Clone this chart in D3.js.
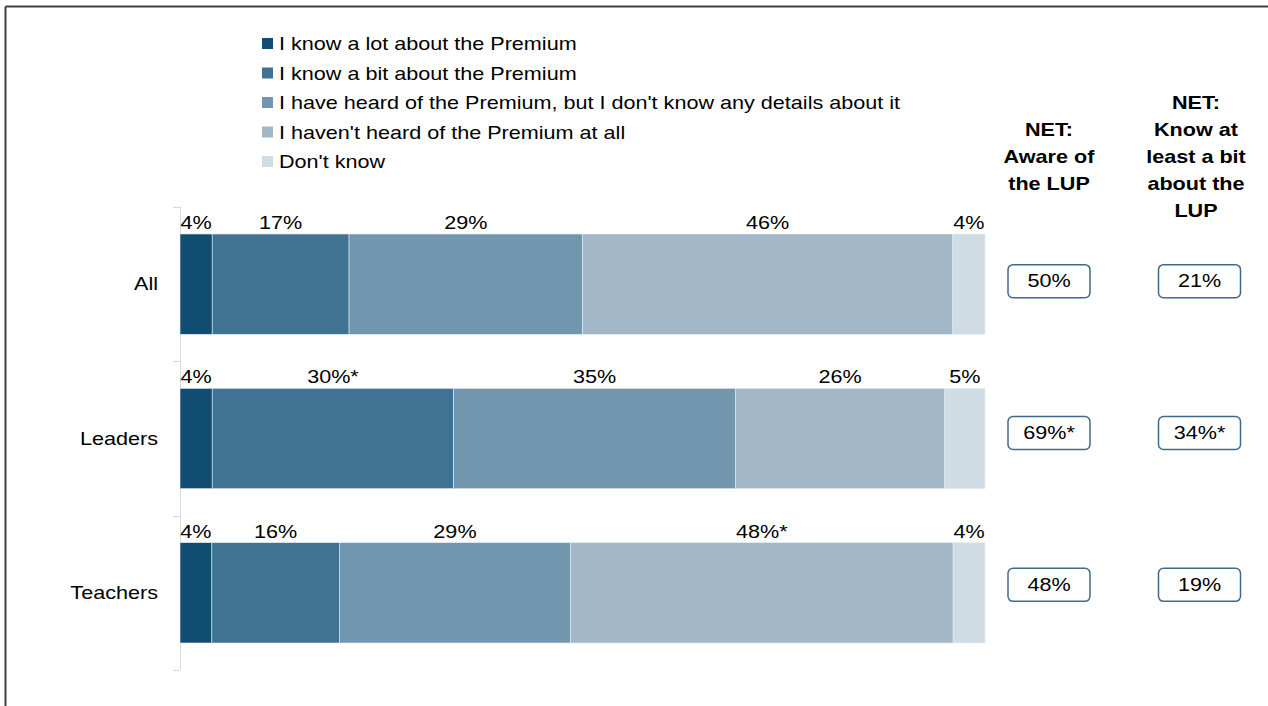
<!DOCTYPE html>
<html>
<head>
<meta charset="utf-8">
<script src="https://cdn.jsdelivr.net/npm/d3@7"></script>
<style>
  html, body { margin: 0; padding: 0; background: #fff; }
  svg { display: block; font-family: "Liberation Sans", Arial, sans-serif; }
</style>
</head>
<body>
<svg id="chart" width="1268" height="706"></svg>
<script>
// Survey groups
const categories = ["All", "Leaders", "Teachers"];

// Response options, in stacking order
const seriesNames = [
  "I know a lot about the Premium",
  "I know a bit about the Premium",
  "I have heard of the Premium, but I don't know any details about it",
  "I haven't heard of the Premium at all",
  "Don't know"
];
const seriesColors = ["#114d72", "#407291", "#7196ae", "#a2b8c8", "#cfdce4"];

// Percentages per group (All, Leaders, Teachers)
const knowLot   = [4, 4, 4];
const knowBit   = [17, 30, 16];
const heardOnly = [29, 35, 29];
const notHeard  = [46, 26, 48];
const dontKnow  = [4, 5, 4];

// Significance markers (*) per series and group
const knowLotSig   = [false, false, false];
const knowBitSig   = [false, true, false];
const heardOnlySig = [false, false, false];
const notHeardSig  = [false, false, true];
const dontKnowSig  = [false, false, false];

// NET summary columns
const netHeaders = [["NET:", "Aware of", "the LUP"], ["NET:", "Know at", "least a bit", "about the", "LUP"]];
const netAware    = [50, 69, 48];
const netAwareSig = [false, true, false];
const netKnow     = [21, 34, 19];
const netKnowSig  = [false, true, false];

const seriesValues = [knowLot, knowBit, heardOnly, notHeard, dontKnow];
const seriesSig = [knowLotSig, knowBitSig, heardOnlySig, notHeardSig, dontKnowSig];

const rows = categories.map((c, i) => {
  const r = { category: c };
  seriesNames.forEach((s, j) => { r[s] = seriesValues[j][i]; });
  return r;
});

// Text in this chart uses a slightly widened face
const STRETCH = 1.2;
function placeText(sel, fx, fy) {
  return sel.attr("transform", (d, i) => `translate(${fx(d, i)},${fy(d, i)}) scale(${STRETCH},1)`);
}

const svg = d3.select("#chart");

// Frame lines (top and left)
svg.append("line").attr("x1", 5.5).attr("x2", 1268).attr("y1", 6.5).attr("y2", 6.5)
  .attr("stroke", "#404040").attr("stroke-width", 2);
svg.append("line").attr("x1", 5.5).attr("x2", 5.5).attr("y1", 6.5).attr("y2", 706)
  .attr("stroke", "#404040").attr("stroke-width", 2);

const x = d3.scaleLinear().domain([0, 1]).range([180, 985]);
const y = d3.scaleBand().domain(categories).range([207, 670])
  .paddingInner(0.35).paddingOuter(0.175);

const stack = d3.stack().keys(seriesNames).offset(d3.stackOffsetExpand);
const layers = stack(rows);

// Category axis
const axisG = svg.append("g");
axisG.append("line").attr("x1", 180.5).attr("x2", 180.5).attr("y1", 207).attr("y2", 670)
  .attr("stroke", "#d9d9d9");
const step = y.step();
const boundaries = categories.map(c => y(c) - y.paddingInner() * step / 2);
boundaries[0] = 207;
boundaries.push(670);
axisG.selectAll("line.tick").data(boundaries).join("line")
  .attr("class", "tick")
  .attr("x1", 173).attr("x2", 180)
  .attr("y1", d => Math.round(d) + 0.5).attr("y2", d => Math.round(d) + 0.5)
  .attr("stroke", "#d9d9d9");

placeText(
  axisG.selectAll("text.cat").data(categories).join("text")
    .attr("class", "cat")
    .attr("dy", "0.35em")
    .attr("text-anchor", "end")
    .attr("font-size", 18)
    .attr("fill", "#000")
    .text(d => d),
  () => 158, d => y(d) + y.bandwidth() / 2);

// Stacked bars
const layerG = svg.append("g").selectAll("g").data(layers).join("g")
  .attr("fill", (d, i) => seriesColors[i]);

layerG.selectAll("rect").data(d => d).join("rect")
  .attr("x", d => x(d[0]))
  .attr("width", d => x(d[1]) - x(d[0]))
  .attr("y", d => y(d.data.category))
  .attr("height", y.bandwidth())
  .attr("stroke", "#e4ebf0")
  .attr("stroke-width", 0.6);

// Value labels above segments
layers.forEach((layer, j) => {
  placeText(
    svg.append("g").selectAll("text").data(layer).join("text")
      .attr("text-anchor", "middle")
      .attr("font-size", 18)
      .attr("fill", "#000")
      .text((d, i) => seriesValues[j][i] + "%" + (seriesSig[j][i] ? "*" : "")),
    d => (x(d[0]) + x(d[1])) / 2, d => y(d.data.category) - 5);
});

// Legend
const legend = svg.append("g").selectAll("g").data(seriesNames).join("g")
  .attr("transform", (d, i) => `translate(262, ${44 + i * 29.5})`);
legend.append("rect").attr("x", 0).attr("y", -6).attr("width", 11).attr("height", 11)
  .attr("fill", (d, i) => seriesColors[i]);
placeText(
  legend.append("text").attr("dy", "0.35em")
    .attr("font-size", 18).attr("fill", "#000").text(d => d),
  () => 17, () => 0);

// NET columns
const netCols = [
  { cx: 1049, values: netAware, sig: netAwareSig, header: netHeaders[0] },
  { cx: 1199.5, hx: 1196, values: netKnow, sig: netKnowSig, header: netHeaders[1] }
];
const lineH = 27;
netCols.forEach(col => {
  const n = col.header.length;
  placeText(
    svg.append("g").selectAll("text").data(col.header).join("text")
      .attr("dy", "0.35em")
      .attr("text-anchor", "middle")
      .attr("font-size", 18)
      .attr("font-weight", "bold")
      .attr("fill", "#000")
      .text(d => d),
    () => col.hx || col.cx, (d, i) => 157 + (i - (n - 1) / 2) * lineH);

  const boxes = svg.append("g").selectAll("g").data(categories).join("g")
    .attr("transform", (d, i) => `translate(${col.cx}, ${y(d) + y.bandwidth() / 2 - 3 - i * 2.5})`);
  boxes.append("rect")
    .attr("x", -41).attr("y", -16.5).attr("width", 82).attr("height", 33)
    .attr("rx", 5).attr("fill", "#fff")
    .attr("stroke", "#41698a").attr("stroke-width", 1.5);
  placeText(
    boxes.append("text")
      .attr("dy", "0.35em")
      .attr("text-anchor", "middle").attr("font-size", 18).attr("fill", "#000")
      .text((d, i) => col.values[i] + "%" + (col.sig[i] ? "*" : "")),
    () => 0, () => 0);
});
</script>
</body>
</html>
